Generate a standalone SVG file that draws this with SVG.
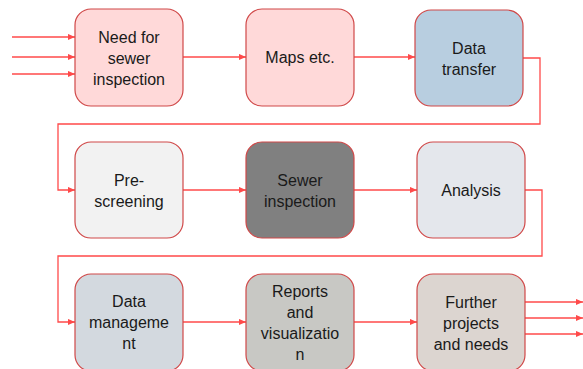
<svg xmlns="http://www.w3.org/2000/svg" width="583" height="369" viewBox="0 0 583 369">
<style>
.box{stroke:#D04848;stroke-width:1.2}
.t{font-family:"Liberation Sans",Arial,sans-serif;font-size:16px;fill:#1a1a1a;text-anchor:middle}
.c{fill:none;stroke:#FF4A4A;stroke-width:1.3}
</style>
<defs>
<marker id="ah" viewBox="0 0 8 8" refX="8" refY="4" markerWidth="7" markerHeight="7" markerUnits="userSpaceOnUse" orient="auto">
<path d="M0,0.5 L8,4 L0,7.5 Z" fill="#FF4A4A"/>
</marker>
</defs>
<g id="connectors">
<path class="c" d="M12,37 H75" marker-end="url(#ah)"/>
<path class="c" d="M12,57 H75" marker-end="url(#ah)"/>
<path class="c" d="M12,74 H75" marker-end="url(#ah)"/>
<path class="c" d="M183,57 H246" marker-end="url(#ah)"/>
<path class="c" d="M354,57 H415" marker-end="url(#ah)"/>
<path class="c" d="M523,58 H540 V124 H58 V190 H75" marker-end="url(#ah)"/>
<path class="c" d="M183,190 H246" marker-end="url(#ah)"/>
<path class="c" d="M354,190 H417" marker-end="url(#ah)"/>
<path class="c" d="M525,190 H542 V256 H58 V322 H75" marker-end="url(#ah)"/>
<path class="c" d="M183,322 H246" marker-end="url(#ah)"/>
<path class="c" d="M354,322 H417" marker-end="url(#ah)"/>
<path class="c" d="M525,302 H583" marker-end="url(#ah)"/>
<path class="c" d="M525,318 H583" marker-end="url(#ah)"/>
<path class="c" d="M525,334 H583" marker-end="url(#ah)"/>
</g>
<g id="need">
<rect class="box" x="75" y="9" width="108" height="97" rx="16" fill="#FFD9D9"/>
<text class="t" x="129" y="43">Need for</text>
<text class="t" x="129" y="64">sewer</text>
<text class="t" x="129" y="85">inspection</text>
</g>
<g id="maps">
<rect class="box" x="246" y="9" width="108" height="97" rx="16" fill="#FFD9D9"/>
<text class="t" x="300" y="63">Maps etc.</text>
</g>
<g id="transfer">
<rect class="box" x="415" y="10" width="108" height="96" rx="16" fill="#B8CEE0"/>
<text class="t" x="469" y="54">Data</text>
<text class="t" x="469" y="75">transfer</text>
</g>
<g id="prescreen">
<rect class="box" x="75" y="142" width="108" height="96" rx="16" fill="#F2F2F2"/>
<text class="t" x="129" y="186">Pre-</text>
<text class="t" x="129" y="207">screening</text>
</g>
<g id="sewer">
<rect class="box" x="246" y="142" width="108" height="96" rx="16" fill="#808080"/>
<text class="t" x="300" y="186">Sewer</text>
<text class="t" x="300" y="207">inspection</text>
</g>
<g id="analysis">
<rect class="box" x="417" y="142" width="108" height="96" rx="16" fill="#E4E7EC"/>
<text class="t" x="471" y="196">Analysis</text>
</g>
<g id="datamgmt">
<rect class="box" x="75" y="274" width="108" height="97" rx="16" fill="#D3D9DF"/>
<text class="t" x="129" y="307">Data</text>
<text class="t" x="129" y="328">manageme</text>
<text class="t" x="129" y="349">nt</text>
</g>
<g id="reports">
<rect class="box" x="246" y="274" width="108" height="97" rx="16" fill="#C8C8C4"/>
<text class="t" x="300" y="297">Reports</text>
<text class="t" x="300" y="318">and</text>
<text class="t" x="300" y="339">visualizatio</text>
<text class="t" x="300" y="360">n</text>
</g>
<g id="further">
<rect class="box" x="417" y="274" width="108" height="97" rx="16" fill="#DCD5D0"/>
<text class="t" x="471" y="308">Further</text>
<text class="t" x="471" y="329">projects</text>
<text class="t" x="471" y="350">and needs</text>
</g>
</svg>
